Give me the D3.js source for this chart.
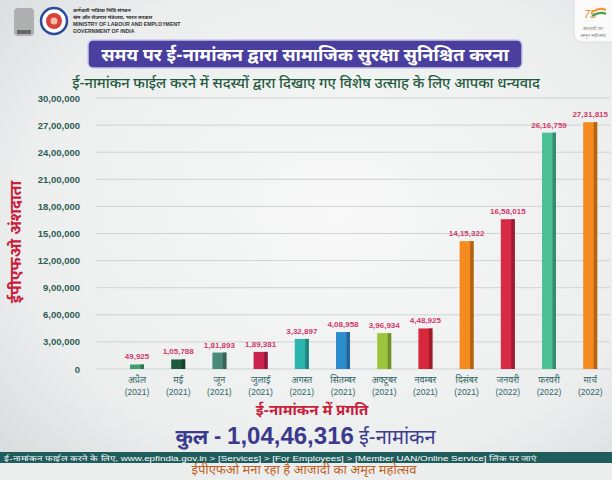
<!DOCTYPE html>
<html><head><meta charset="utf-8">
<script src="https://cdn.jsdelivr.net/npm/d3@7"></script>
<style>
html,body{margin:0;padding:0;background:#eef0f0;}
svg{display:block;}
</style></head>
<body>
<script>
const months = ["अप्रैल","मई","जून","जुलाई","अगस्त","सितम्बर","अक्टूबर","नवम्बर","दिसंबर","जनवरी","फरवरी","मार्च"];
const years = ["2021","2021","2021","2021","2021","2021","2021","2021","2021","2022","2022","2022"];
const values = [49925,105788,181893,189381,332897,408958,396934,448925,1415322,1658015,2616759,2731815];
const barColors = ["#3f9e6e","#1d5a40","#4a8a76","#c8224e","#2bb3ad","#2f8ccc","#9cc43c","#d9283c","#f58a1f","#d62a46","#4cc196","#f58a1f"];
const yTicks = [0,300000,600000,900000,1200000,1500000,1800000,2100000,2400000,2700000,3000000];
const totalText = "1,04,46,316";

const W = 612, H = 480;
const dev = "'Noto Sans Devanagari','Noto Sans','Lohit Devanagari',sans-serif";
const num = "'Liberation Sans',Arial,sans-serif";

function indian(n){
  if(n===0) return "0";
  const s = String(n);
  if(s.length<=3) return s;
  const last3 = s.slice(-3);
  let rest = s.slice(0,-3);
  const parts=[];
  while(rest.length>2){parts.unshift(rest.slice(-2)); rest=rest.slice(0,-2);}
  if(rest.length) parts.unshift(rest);
  return parts.join(",")+","+last3;
}

const svg = d3.select("body").append("svg").attr("width",W).attr("height",H);
const defs = svg.append("defs");
const bg = defs.append("radialGradient").attr("id","bg").attr("cx","55%").attr("cy","45%").attr("r","75%");
bg.append("stop").attr("offset","0%").attr("stop-color","#f7f8f7");
bg.append("stop").attr("offset","70%").attr("stop-color","#eceeee");
bg.append("stop").attr("offset","100%").attr("stop-color","#d6dbdc");
svg.append("rect").attr("width",W).attr("height",H).attr("fill","url(#bg)");

// ---- header logos ----
const hdr = svg.append("g");
hdr.append("rect").attr("x",14).attr("y",8).attr("width",20).attr("height",28).attr("rx",4).attr("fill","#9a9a9a").attr("opacity",0.7);
hdr.append("rect").attr("x",17).attr("y",30).attr("width",14).attr("height",4).attr("fill","#666");
hdr.append("circle").attr("cx",54).attr("cy",21).attr("r",13).attr("fill","#fff").attr("stroke","#2b4a9a").attr("stroke-width",2.5);
hdr.append("circle").attr("cx",54).attr("cy",21).attr("r",8).attr("fill","#d8403a");
hdr.append("circle").attr("cx",54).attr("cy",21).attr("r",3.5).attr("fill","#f0c0a0");
const htxt = ["कर्मचारी भविष्य निधि संगठन","श्रम और रोजगार मंत्रालय, भारत सरकार","MINISTRY OF LABOUR AND EMPLOYMENT","GOVERNMENT OF INDIA"];
hdr.selectAll("text.h").data(htxt).join("text").attr("class","h")
  .attr("x",73).attr("y",(d,i)=>12+i*7).attr("font-size",5.2).attr("font-family",(d,i)=>i<2?dev:num)
  .attr("font-weight","bold").attr("fill","#333").text(d=>d);
// azadi logo
hdr.append("rect").attr("x",574).attr("y",-6).attr("width",44).attr("height",48).attr("rx",7).attr("fill","#fafafa").attr("stroke","#ddd");
hdr.append("text").attr("x",584).attr("y",18).attr("font-size",11).attr("font-family",num).attr("font-style","italic").attr("fill","#e08a30").text("75");
hdr.append("path").attr("d","M592,12 q8,-5 14,-2").attr("stroke","#f29a38").attr("stroke-width",2).attr("fill","none");
hdr.append("path").attr("d","M592,16 q8,-5 14,-2").attr("stroke","#4aa04a").attr("stroke-width",2).attr("fill","none");
hdr.append("text").attr("x",593).attr("y",30).attr("text-anchor","middle").attr("font-size",5).attr("font-family",dev).attr("fill","#888").text("आज़ादी का");
hdr.append("text").attr("x",593).attr("y",37).attr("text-anchor","middle").attr("font-size",5).attr("font-family",dev).attr("fill","#888").text("अमृत महोत्सव");

// ---- title banner ----
svg.append("rect").attr("x",88).attr("y",40).attr("width",434).attr("height",28).attr("rx",5)
  .attr("fill","#4a3f9f").attr("stroke","#c9c6e6").attr("stroke-width",1.5);
svg.append("text").attr("x",305).attr("y",60.5).attr("text-anchor","middle").attr("font-family",dev)
  .attr("font-size",18.2).attr("font-weight","bold").attr("fill","#fff")
  .text("समय पर ई-नामांकन द्वारा सामाजिक सुरक्षा सुनिश्चित करना");
svg.append("text").attr("x",306).attr("y",88).attr("text-anchor","middle").attr("font-family",dev)
  .attr("font-size",14.6).attr("font-weight","500").attr("fill","#1f5a3c")
  .text("ई-नामांकन फाईल करने में सदस्यों द्वारा दिखाए गए विशेष उत्साह के लिए आपका धन्यवाद");

// ---- chart ----
const x = d3.scaleBand().domain(months).range([116.4,610.8]).paddingInner(0.66).paddingOuter(0.33);
const y = d3.scaleLinear().domain([0,3000000]).range([369,98]);

const grid = svg.append("g");
grid.selectAll("line").data(yTicks).join("line")
  .attr("x1",96).attr("x2",610).attr("y1",d=>y(d)).attr("y2",d=>y(d))
  .attr("stroke","#cfd3d3").attr("stroke-width",1);

const yAxis = svg.append("g").attr("transform","translate(88,0)")
  .call(d3.axisLeft(y).tickValues(yTicks).tickFormat(indian).tickSize(0).tickPadding(8));
yAxis.select(".domain").remove();
yAxis.selectAll("text").attr("font-family",num).attr("font-size",9.5).attr("font-weight","bold").attr("fill","#2e5e55");

svg.append("text").attr("transform","translate(21,242) rotate(-90)").attr("text-anchor","middle")
  .attr("font-family",dev).attr("font-size",16).attr("font-weight","bold").attr("fill","#c8203a")
  .text("ईपीएफओ अंशदाता");

const bars = svg.append("g");
const data = months.map((m,i)=>({m, v:values[i], c:barColors[i], yr:years[i]}));
bars.selectAll("rect.b").data(data).join("rect").attr("class","b")
  .attr("x",d=>x(d.m)).attr("width",x.bandwidth())
  .attr("y",d=>y(d.v)).attr("height",d=>y(0)-y(d.v)).attr("fill",d=>d.c);
bars.selectAll("rect.s").data(data).join("rect").attr("class","s")
  .attr("x",d=>x(d.m)+x.bandwidth()-3.5).attr("width",3.5)
  .attr("y",d=>y(d.v)).attr("height",d=>y(0)-y(d.v)).attr("fill",d=>d3.color(d.c).darker(0.9));
bars.selectAll("text.v").data(data).join("text").attr("class","v")
  .attr("x",d=>x(d.m)+x.bandwidth()/2).attr("y",d=>y(d.v)-5).attr("text-anchor","middle")
  .attr("font-family",num).attr("font-size",8).attr("font-weight","bold").attr("fill","#d2386a")
  .text(d=>indian(d.v));

const xAxis = svg.append("g").attr("transform",`translate(0,${y(0)})`)
  .call(d3.axisBottom(x).tickSize(0).tickPadding(0).tickFormat(()=>""));
xAxis.select(".domain").remove();
xAxis.selectAll(".tick").each(function(d,i){
  const g = d3.select(this);
  g.append("text").attr("y",14).attr("text-anchor","middle").attr("font-family",dev)
    .attr("font-size",9).attr("fill","#2d6464").text(d);
  g.append("text").attr("y",26).attr("text-anchor","middle").attr("font-family",num)
    .attr("font-size",8.5).attr("fill","#2d6464").text("("+years[i]+")");
});

svg.append("text").attr("x",312).attr("y",415).attr("text-anchor","middle").attr("font-family",dev)
  .attr("font-size",15).attr("font-weight","bold").attr("fill","#c8203a").text("ई-नामांकन में प्रगति");

const tot = svg.append("text").attr("x",305.5).attr("y",444).attr("text-anchor","middle").attr("fill","#3b3a8e");
tot.append("tspan").attr("font-family",dev).attr("font-size",21).attr("font-weight","bold").text("कुल - ");
tot.append("tspan").attr("font-family",num).attr("font-size",24).attr("font-weight","bold").text(totalText);
tot.append("tspan").attr("font-family",dev).attr("font-size",20).text(" ई-नामांकन");

svg.append("rect").attr("x",0).attr("y",452).attr("width",W).attr("height",11).attr("fill","#1f5c5c");
svg.append("text").attr("x",4).attr("y",461).attr("font-family",num)
  .attr("font-size",7.4).attr("fill","#ffffff")
  .attr("textLength",532).attr("lengthAdjust","spacingAndGlyphs")
  .text("ई-नामांकन फाईल करने के लिए, www.epfindia.gov.in > [Services] > [For Employees] > [Member UAN/Online Service]  लिंक पर जाएं");
svg.append("rect").attr("x",0).attr("y",463).attr("width",W).attr("height",17).attr("fill","#eceeee");
svg.append("text").attr("x",304).attr("y",474).attr("text-anchor","middle").attr("font-family",dev)
  .attr("font-size",13).attr("fill","#c0601e").text("ईपीएफओ मना रहा है आजादी का अमृत महोत्सव");
</script>
</body></html>
